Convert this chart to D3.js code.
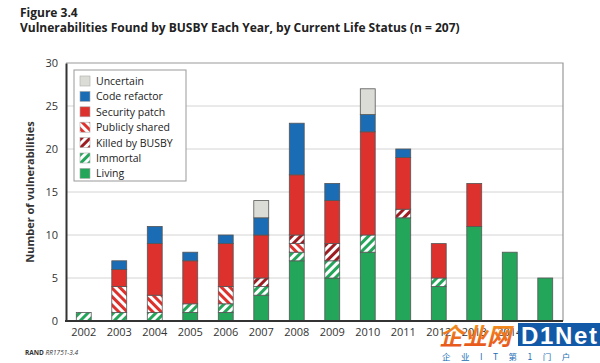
<!DOCTYPE html>
<html>
<head>
<meta charset="utf-8">
<script src="https://cdn.jsdelivr.net/npm/d3@7"></script>
<style>
  html, body { margin: 0; padding: 0; background: #fff; }
  svg { display: block; font-family: "Open Sans", "Noto Sans", sans-serif; }
</style>
</head>
<body>
<svg id="chart" width="600" height="363"></svg>
<script>
const years = ["2002","2003","2004","2005","2006","2007","2008","2009","2010","2011","2012","2013","2014","2015"];
const living         = [0,0,0,1,1,3,7,5,8,12,4,11,8,5];
const immortal       = [1,1,1,1,1,1,1,2,2,0,1,0,0,0];
const publiclyShared = [0,3,2,0,2,0,1,0,0,0,0,0,0,0];
const killedByBusby  = [0,0,0,0,0,1,1,2,0,1,0,0,0,0];
const securityPatch  = [0,2,6,5,5,5,7,5,12,6,4,5,0,0];
const codeRefactor   = [0,1,2,1,1,2,6,2,2,1,0,0,0,0];
const uncertain      = [0,0,0,0,0,2,0,0,3,0,0,0,0,0];
const yTicks = [0,5,10,15,20,25,30];

const seriesDefs = [
  {key:"Living", values: living, fill:"#23a55a"},
  {key:"Immortal", values: immortal, fill:"url(#pImmortal)"},
  {key:"Publicly shared", values: publiclyShared, fill:"url(#pPublic)"},
  {key:"Killed by BUSBY", values: killedByBusby, fill:"url(#pKilled)"},
  {key:"Security patch", values: securityPatch, fill:"#dc312c"},
  {key:"Code refactor", values: codeRefactor, fill:"#1a6db4"},
  {key:"Uncertain", values: uncertain, fill:"#dcdcd7"}
];
const legendOrder = ["Uncertain","Code refactor","Security patch","Publicly shared","Killed by BUSBY","Immortal","Living"];

const svg = d3.select("#chart");
const defs = svg.append("defs");
function stripes(id, color, angle) {
  const p = defs.append("pattern").attr("id", id).attr("patternUnits","userSpaceOnUse")
    .attr("width", 6).attr("height", 6).attr("patternTransform", `rotate(${angle})`);
  p.append("rect").attr("width", 6).attr("height", 6).attr("fill", "#fff");
  p.append("rect").attr("width", 3).attr("height", 6).attr("fill", color);
}
stripes("pImmortal", "#23a55a", 45);
stripes("pPublic", "#dc312c", -45);
stripes("pKilled", "#9d1c22", 45);

const margin = {left: 66, right: 37, top: 63, bottom: 42};
const W = 600, H = 363;
const x = d3.scaleBand().domain(years).range([margin.left, W - margin.right]).paddingInner(0.58).paddingOuter(0.29);
const y = d3.scaleLinear().domain([0, 30]).range([H - margin.bottom, margin.top]);

// Titles
svg.append("text").attr("x", 20).attr("y", 17).attr("font-size", 12).attr("font-weight", "bold")
  .attr("fill", "#222").text("Figure 3.4");
svg.append("text").attr("x", 20).attr("y", 32).attr("font-size", 12).attr("font-weight", "bold")
  .attr("fill", "#222").text("Vulnerabilities Found by BUSBY Each Year, by Current Life Status (n = 207)");

// Grid
svg.append("g").selectAll("line").data(yTicks.slice(1, -1)).join("line")
  .attr("x1", margin.left).attr("x2", W - margin.right)
  .attr("y1", d => y(d)).attr("y2", d => y(d))
  .attr("stroke", "#d4d4d4").attr("stroke-width", 1);

// Frame top/right
svg.append("path")
  .attr("d", `M${margin.left},${y(30)}H${W - margin.right}V${y(0)}`)
  .attr("fill", "none").attr("stroke", "#999").attr("stroke-width", 1.2);

// Stack
const table = years.map((yr, i) => {
  const o = {year: yr};
  seriesDefs.forEach(s => o[s.key] = s.values[i]);
  return o;
});
const stack = d3.stack().keys(seriesDefs.map(s => s.key))(table);
const fillOf = Object.fromEntries(seriesDefs.map(s => [s.key, s.fill]));

svg.append("g").selectAll("g").data(stack).join("g")
  .attr("fill", d => fillOf[d.key])
  .selectAll("rect").data(d => d.filter(v => v[1] > v[0])).join("rect")
  .attr("x", d => x(d.data.year)).attr("width", x.bandwidth())
  .attr("y", d => y(d[1])).attr("height", d => y(d[0]) - y(d[1]))
  .attr("stroke", "#555").attr("stroke-width", 0.8);

// Axes
const yAxis = d3.axisLeft(y).tickValues(yTicks).tickSize(0).tickPadding(8);
const gy = svg.append("g").attr("transform", `translate(${margin.left},0)`).call(yAxis);
gy.select(".domain").attr("stroke", "#333").attr("stroke-width", 2);
gy.selectAll("text").attr("font-size", 11).attr("fill", "#333").attr("font-family", "Open Sans");

const xAxis = d3.axisBottom(x).tickSize(0).tickPadding(7);
const gx = svg.append("g").attr("transform", `translate(0,${y(0)})`).call(xAxis);
gx.select(".domain").attr("stroke", "#333").attr("stroke-width", 2)
  .attr("d", `M${margin.left - 1},0H${W - margin.right}`);
gx.selectAll("text").attr("font-size", 11).attr("fill", "#333").attr("font-family", "Open Sans");

svg.append("text")
  .attr("transform", `translate(34,${(y(0) + y(30)) / 2}) rotate(-90)`)
  .attr("text-anchor", "middle").attr("font-size", 11).attr("font-weight", "bold").attr("fill", "#333")
  .text("Number of vulnerabilities");

// Legend
const lg = svg.append("g").attr("transform", "translate(74,70)");
lg.append("rect").attr("width", 112).attr("height", 111).attr("fill", "#fff")
  .attr("stroke", "#999").attr("stroke-width", 1);
const li = lg.selectAll("g.item").data(legendOrder).join("g").attr("class", "item")
  .attr("transform", (d, i) => `translate(6,${6 + i * 15.4})`);
li.append("rect").attr("width", 10).attr("height", 10)
  .attr("fill", d => fillOf[d]).attr("stroke", "#aaa").attr("stroke-width", 0.6);
li.append("text").attr("x", 16).attr("y", 9).attr("font-size", 10.5).attr("fill", "#222").text(d => d);

// Source note
const src = svg.append("text").attr("x", 25).attr("y", 355).attr("font-size", 6.5).attr("fill", "#333");
src.append("tspan").attr("font-weight", "bold").text("RAND ");
src.append("tspan").attr("font-style", "italic").text("RR1751-3.4");

// Watermark (overlays the last axis labels, as in the reference)
const wm = svg.append("g");
const grad = defs.append("linearGradient").attr("id", "wmGrad").attr("x1", 0).attr("x2", 0).attr("y1", 0).attr("y2", 1);
grad.append("stop").attr("offset", "0%").attr("stop-color", "#f7a21b");
grad.append("stop").attr("offset", "100%").attr("stop-color", "#e5481c");
wm.append("text").attr("x", 439).attr("y", 345).attr("font-size", 24).attr("font-weight", "bold")
  .attr("font-family", "Noto Sans CJK SC").attr("fill", "url(#wmGrad)").attr("font-style", "italic").text("企业网");
wm.append("rect").attr("x", 518).attr("y", 323).attr("width", 82).attr("height", 23).attr("fill", "#1259a8");
wm.append("text").attr("x", 521).attr("y", 344).attr("font-size", 24).attr("font-weight", "bold")
  .attr("font-family", "Liberation Sans").attr("fill", "#fff").attr("textLength", 76).text("D1Net");
wm.append("text").attr("x", 442).attr("y", 360).attr("font-size", 8.5)
  .attr("font-family", "Noto Sans CJK SC").attr("fill", "#1a6db4").attr("letter-spacing", 10.5).text("企业IT第1门户");
</script>
</body>
</html>
